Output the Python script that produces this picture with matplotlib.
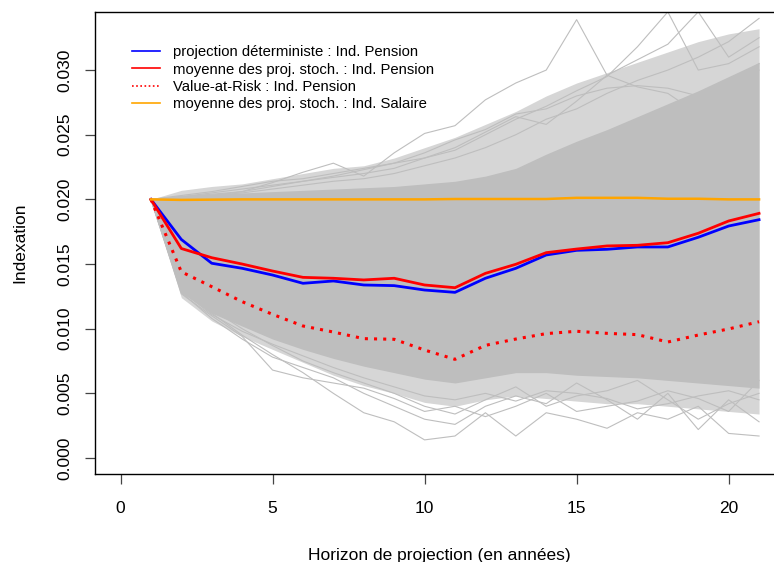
import matplotlib.pyplot as plt
from matplotlib.lines import Line2D

plt.rcParams['font.family'] = ['Liberation Sans', 'DejaVu Sans']

# projection horizon (years)
annees = list(range(1, 22))

# deterministic projection and stochastic mean of the pension index
proj_determ = [0.0200, 0.0169, 0.01506, 0.01467, 0.01415, 0.01351, 0.01369, 0.01338, 0.01333, 0.01299, 0.01281,
               0.0139, 0.01467, 0.0157, 0.01606, 0.01614, 0.01632, 0.01632, 0.01707, 0.01794, 0.01843]
moy_pension = [0.0200, 0.0162, 0.01549, 0.0150, 0.01446, 0.01397, 0.0139, 0.01377, 0.0139, 0.01338, 0.01317,
               0.01428, 0.01498, 0.01588, 0.01616, 0.0164, 0.01645, 0.01665, 0.01738, 0.01833, 0.01892]
var_pension = [0.0200, 0.0144, 0.01325, 0.01209, 0.01111, 0.01021, 0.00974, 0.00923, 0.00918, 0.00835, 0.00763,
               0.00871, 0.0092, 0.00962, 0.0098, 0.00964, 0.00954, 0.00897, 0.00951, 0.00998, 0.01054]
moy_salaire = [0.0200, 0.01996, 0.01998, 0.0200, 0.0200, 0.0200, 0.0200, 0.0200, 0.0200, 0.0200, 0.02003,
               0.02003, 0.02003, 0.02003, 0.02012, 0.02012, 0.02012, 0.02005, 0.02005, 0.0200, 0.0200]

# envelope of the stochastic paths: dense core and outer web
coeur_haut = [0.0200, 0.0203, 0.0204, 0.0205, 0.0206, 0.0207, 0.0208, 0.0209, 0.0210, 0.0212, 0.0214,
              0.0218, 0.0224, 0.0235, 0.0245, 0.0254, 0.0264, 0.0274, 0.0284, 0.0295, 0.0306]
coeur_bas = [0.0200, 0.0128, 0.0112, 0.0102, 0.0092, 0.0084, 0.0077, 0.0071, 0.0066, 0.0061, 0.0058,
             0.0062, 0.0066, 0.0066, 0.0064, 0.0063, 0.0062, 0.0060, 0.0058, 0.0056, 0.0054]
nappe_haut = [0.0200, 0.0207, 0.0210, 0.0212, 0.0216, 0.0220, 0.0224, 0.0226, 0.0232, 0.0240, 0.0248,
              0.0258, 0.0268, 0.0280, 0.0290, 0.0298, 0.0306, 0.0314, 0.0322, 0.0328, 0.0332]
nappe_bas = [0.0200, 0.0124, 0.0106, 0.0094, 0.0084, 0.0074, 0.0064, 0.0056, 0.0050, 0.0043, 0.0040,
             0.0045, 0.0048, 0.0046, 0.0044, 0.0042, 0.0042, 0.0040, 0.0038, 0.0036, 0.0034]

# extreme stochastic paths
traj_extremes = [
    [0.0200, 0.0201, 0.0203, 0.0206, 0.0213, 0.0221, 0.0228, 0.0218, 0.0236, 0.0251, 0.0257,
     0.0277, 0.0290, 0.0300, 0.0339, 0.0296, 0.0287, 0.0282, 0.0266, 0.0285, 0.0300],
    [0.0200, 0.0202, 0.0205, 0.0208, 0.0211, 0.0214, 0.0217, 0.0220, 0.0224, 0.0232, 0.0238,
     0.0250, 0.0262, 0.0272, 0.0284, 0.0295, 0.0318, 0.0345, 0.0300, 0.0305, 0.0318],
    [0.0200, 0.0203, 0.0206, 0.0210, 0.0214, 0.0216, 0.0220, 0.0224, 0.0228, 0.0236, 0.0246,
     0.0254, 0.0266, 0.0270, 0.0280, 0.0286, 0.0288, 0.0286, 0.0280, 0.0290, 0.0305],
    [0.0200, 0.0202, 0.0204, 0.0206, 0.0210, 0.0214, 0.0218, 0.0223, 0.0228, 0.0232, 0.0240,
     0.0252, 0.0264, 0.0258, 0.0276, 0.0296, 0.0308, 0.0320, 0.0345, 0.0310, 0.0325],
    [0.0200, 0.0201, 0.0203, 0.0205, 0.0208, 0.0211, 0.0214, 0.0216, 0.0220, 0.0226, 0.0232,
     0.0240, 0.0250, 0.0262, 0.0270, 0.0282, 0.0292, 0.0300, 0.0310, 0.0322, 0.0340],
    [0.0200, 0.0130, 0.0112, 0.0095, 0.0080, 0.0066, 0.0050, 0.0035, 0.0028, 0.0014, 0.0017,
     0.0035, 0.0017, 0.0035, 0.0030, 0.0023, 0.0035, 0.0030, 0.0040, 0.0019, 0.0017],
    [0.0200, 0.0128, 0.0108, 0.0092, 0.0078, 0.0070, 0.0062, 0.0050, 0.0040, 0.0030, 0.0026,
     0.0040, 0.0048, 0.0042, 0.0058, 0.0045, 0.0030, 0.0050, 0.0022, 0.0045, 0.0028],
    [0.0200, 0.0132, 0.0115, 0.0100, 0.0087, 0.0075, 0.0066, 0.0058, 0.0050, 0.0040, 0.0034,
     0.0045, 0.0055, 0.0040, 0.0048, 0.0052, 0.0060, 0.0045, 0.0030, 0.0042, 0.0050],
    [0.0200, 0.0127, 0.0110, 0.0094, 0.0068, 0.0062, 0.0058, 0.0054, 0.0046, 0.0036, 0.0040,
     0.0032, 0.0040, 0.0050, 0.0036, 0.0040, 0.0044, 0.0052, 0.0046, 0.0036, 0.0060],
    [0.0200, 0.0129, 0.0111, 0.0098, 0.0088, 0.0079, 0.0070, 0.0062, 0.0055, 0.0048, 0.0045,
     0.0050, 0.0044, 0.0052, 0.0050, 0.0046, 0.0038, 0.0042, 0.0048, 0.0052, 0.0045],
]

legende = ['projection déterministe : Ind. Pension',
           'moyenne des proj. stoch. : Ind. Pension',
           'Value-at-Risk : Ind. Pension',
           'moyenne des proj. stoch. : Ind. Salaire']

gris = '#bebebe'

fig = plt.figure(figsize=(7.74, 5.62), dpi=100)
ax = fig.add_axes([0.1227, 0.1566, 0.891, 0.8212])

# cloud of simulated paths
ax.fill_between(annees, nappe_bas, nappe_haut, color='#d6d6d6', lw=0)
ax.fill_between(annees, coeur_bas, coeur_haut, color=gris, lw=0)
for traj in traj_extremes:
    ax.plot(annees, traj, color=gris, lw=0.8)

ax.plot(annees, proj_determ, color='blue', lw=2)
ax.plot(annees, moy_pension, color='red', lw=2)
ax.plot(annees, var_pension, color='red', lw=2.2, linestyle=(0, (1, 2)), dash_capstyle='butt')
ax.plot(annees, moy_salaire, color='orange', lw=1.8)

ax.set_xlim(-0.84, 21.84)
ax.set_ylim(-0.001237, 0.034455)
ax.set_xticks([0, 5, 10, 15, 20])
ax.set_yticks([0.000, 0.005, 0.010, 0.015, 0.020, 0.025, 0.030])
ax.set_yticklabels(['0.000', '0.005', '0.010', '0.015', '0.020', '0.025', '0.030'],
                   rotation=90, va='center')
ax.tick_params(axis='x', length=7.2, width=0.9, pad=12, labelsize=12.5, color='#444444')
ax.tick_params(axis='y', length=7.2, width=0.9, pad=9, labelsize=12.5, color='#444444')
for s in ax.spines.values():
    s.set_linewidth(1.0)

ax.set_xlabel('Horizon de projection (en années)', fontsize=12.5, labelpad=23)
ax.set_ylabel('Indexation', fontsize=12.5, labelpad=22)

poignees = [Line2D([], [], color='blue', lw=1.2),
            Line2D([], [], color='red', lw=1.2),
            Line2D([], [], color='red', lw=1.2, linestyle=(0, (1, 1.5))),
            Line2D([], [], color='orange', lw=1.2)]
ax.legend(poignees, legende, loc='upper left', bbox_to_anchor=(0.034, 0.958), frameon=False,
          fontsize=10.7, handlelength=1.87, handletextpad=0.88, labelspacing=0.22)

plt.savefig('out.png', dpi=100)
